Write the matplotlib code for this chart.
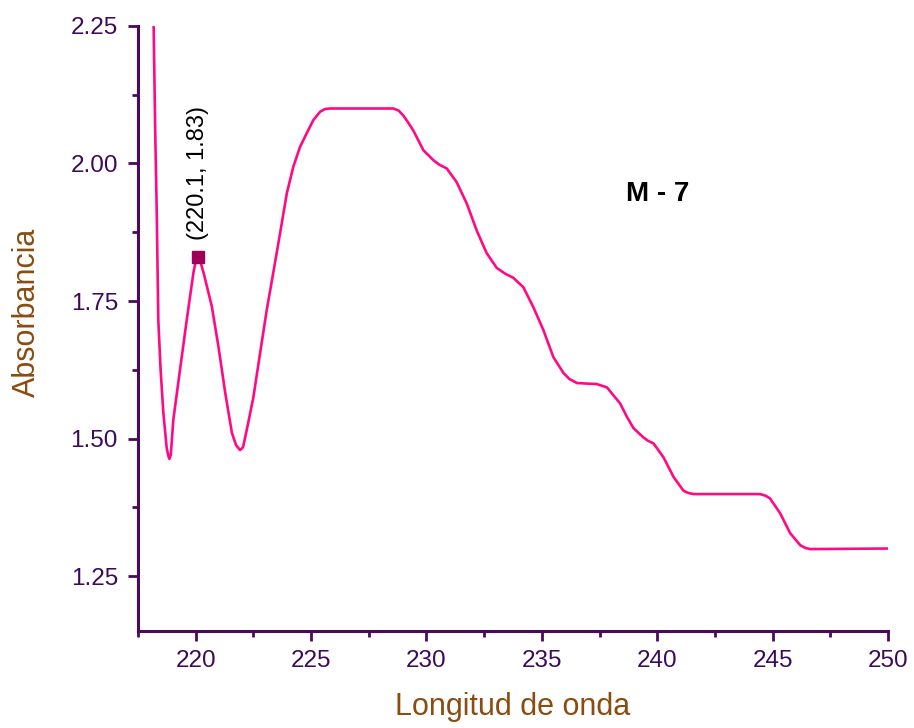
import matplotlib.pyplot as plt
from matplotlib.ticker import MultipleLocator

plt.rcParams["font.family"] = ["Liberation Sans", "DejaVu Sans"]

# UV spectrum of sample M - 7
wavelength = [218.17, 218.25, 218.31, 218.38, 218.48, 218.60, 218.74, 218.81,
              218.86, 218.92, 219.03, 219.32, 219.61, 219.90, 220.00, 220.10,
              220.20, 220.35, 220.70, 220.99, 221.28, 221.57, 221.75, 221.92,
              222.05, 222.21, 222.50, 222.79, 223.08, 223.36, 223.66, 223.95,
              224.23, 224.52, 224.81, 225.10, 225.39, 225.60, 225.82, 228.57,
              228.80, 229.00, 229.20, 229.43, 229.87, 230.30, 230.55, 230.88,
              231.31, 231.75, 232.18, 232.61, 233.05, 233.40, 233.77, 234.20,
              234.63, 235.07, 235.50, 235.94, 236.20, 236.52, 236.90, 237.38,
              237.82, 238.39, 238.68, 238.97, 239.40, 239.60, 239.84, 240.27,
              240.71, 241.14, 241.35, 241.57, 244.46, 244.70, 244.89, 245.33,
              245.76, 246.20, 246.42, 246.63, 250.00]
absorbance = [2.27, 2.048, 1.915, 1.715, 1.624, 1.546, 1.484, 1.469,
              1.463, 1.470, 1.534, 1.625, 1.715, 1.801, 1.822, 1.830,
              1.822, 1.800, 1.740, 1.666, 1.583, 1.510, 1.488, 1.479,
              1.484, 1.515, 1.575, 1.655, 1.734, 1.801, 1.874, 1.946,
              1.994, 2.030, 2.055, 2.079, 2.094, 2.099, 2.100, 2.100,
              2.096, 2.087, 2.075, 2.060, 2.024, 2.006, 1.998, 1.991,
              1.966, 1.927, 1.878, 1.837, 1.810, 1.800, 1.792, 1.775,
              1.739, 1.697, 1.648, 1.619, 1.608, 1.601, 1.600, 1.599,
              1.593, 1.564, 1.540, 1.519, 1.502, 1.496, 1.491, 1.466,
              1.430, 1.405, 1.401, 1.399, 1.399, 1.396, 1.391, 1.364,
              1.328, 1.306, 1.301, 1.299, 1.300]

peak_x = 220.1
peak_y = 1.83

axis_col = "#4b0a5a"
label_col = "#8a4c10"
line_col = "#ff0a84"

fig = plt.figure(figsize=(9.14, 7.28), dpi=100)
ax = fig.add_axes([0.151, 0.1332, 0.8205, 0.8311])

ax.plot(wavelength, absorbance, color=line_col, lw=1.9, solid_joinstyle="round")
ax.plot([peak_x], [peak_y], marker="s", ms=9, color="#a0005a", ls="none")
ax.annotate(f"({peak_x}, {peak_y})", xy=(peak_x, peak_y), xytext=(0, 12),
            textcoords="offset points", rotation=90, ha="center", va="bottom",
            fontsize=17, color="black")

ax.text(240.0, 1.945, "M - 7", fontsize=20, fontweight="bold",
        ha="center", va="center", color="black")

ax.set_xlim(217.5, 250)
ax.set_ylim(1.15, 2.25)
ax.xaxis.set_major_locator(MultipleLocator(5))
ax.xaxis.set_minor_locator(MultipleLocator(2.5))
ax.yaxis.set_major_locator(MultipleLocator(0.25))
ax.yaxis.set_minor_locator(MultipleLocator(0.125))
ax.yaxis.set_major_formatter(plt.FormatStrFormatter("%.2f"))

for side in ("top", "right"):
    ax.spines[side].set_visible(False)
for side in ("left", "bottom"):
    ax.spines[side].set_color(axis_col)
    ax.spines[side].set_linewidth(2.2)

ax.tick_params(which="major", length=7.5, width=2, color=axis_col,
               labelsize=17.5, labelcolor="#3c0a5a")
ax.tick_params(which="minor", length=4, width=2, color=axis_col)
ax.tick_params(axis="y", which="major", pad=7)
ax.tick_params(axis="x", which="major", pad=6)

ax.set_xlabel("Longitud de onda", fontsize=22, color=label_col)
ax.set_ylabel("Absorbancia", fontsize=22, color=label_col)
ax.xaxis.set_label_coords(0.5, -0.1)
ax.yaxis.set_label_coords(-0.128, 0.527)

fig.savefig("out.png", dpi=100)
plt.close(fig)
